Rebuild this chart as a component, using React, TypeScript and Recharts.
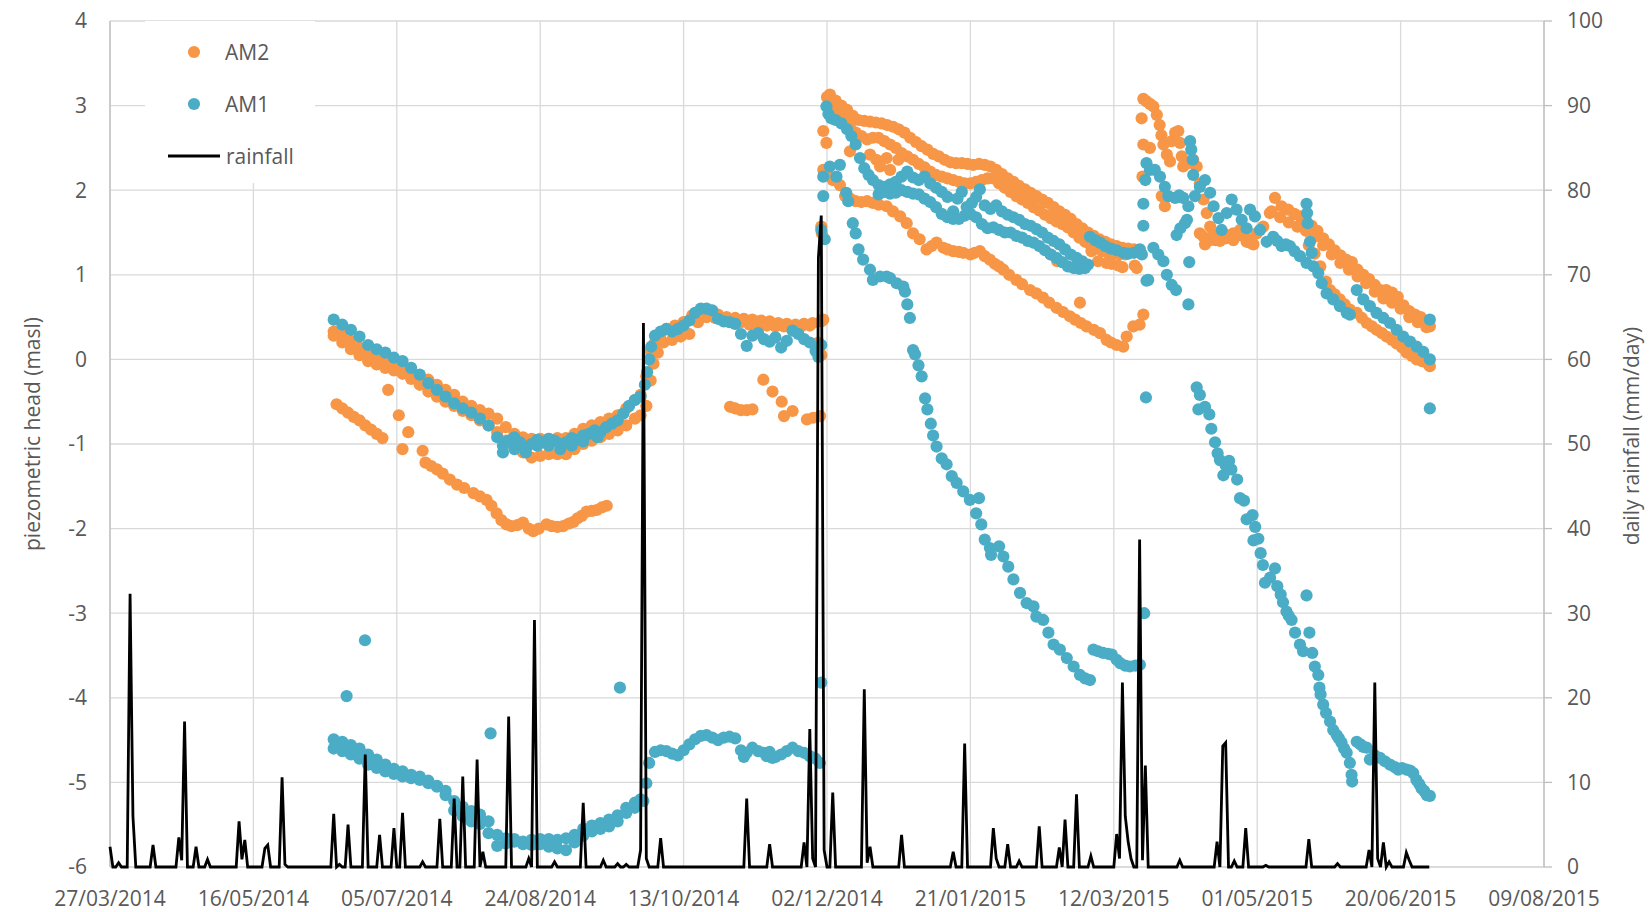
import {
  CartesianGrid,
  ComposedChart,
  Legend,
  Line,
  Scatter,
  XAxis,
  YAxis,
} from "recharts";

// x values are days after 27/03/2014
const dayTicks = [0, 50, 100, 150, 200, 250, 300, 350, 400, 450, 500];
const headTicks = [-6, -5, -4, -3, -2, -1, 0, 1, 2, 3, 4];
const rainTicks = [0, 10, 20, 30, 40, 50, 60, 70, 80, 90, 100];
const rainLastDay = 460;

// [day, mm] for rainy days, every other day is 0
const rainEvents: [number, number][] = [
  [0, 2.4], [3, 0.5], [7, 32.3], [8, 6], [15, 2.6], [24, 3.5], [25, 0.8], [26, 17.2], [30, 2.4],
  [34, 0.9], [45, 5.4], [46, 0.9], [47, 3.2], [54, 2.2], [55, 2.6], [60, 10.6], [61, 0.3],
  [78, 6.3], [80, 0.3], [83, 5.0], [89, 13.3], [94, 3.8], [99, 4.6], [102, 6.4], [109, 0.6],
  [115, 5.7], [120, 8.1], [123, 10.7], [128, 12.7], [130, 1.8], [139, 17.8], [146, 1.0],
  [148, 29.2], [155, 0.6], [165, 7.6], [172, 0.8], [177, 0.4], [180, 0.3], [185, 2.0],
  [186, 64.3], [187, 1.0], [192, 3.4], [222, 8.1], [230, 2.7], [242, 2.9], [244, 16.3],
  [245, 1.0], [247, 72], [248, 77], [249, 2.0], [252, 8.8], [263, 21], [264, 0.5], [265, 2.4],
  [276, 3.8], [294, 1.8], [298, 14.6], [308, 4.6], [309, 1.0], [313, 2.7], [317, 0.7],
  [324, 4.8], [331, 2.3], [333, 5.6], [337, 8.6], [342, 1.3], [351, 3.9], [352, 1.0],
  [353, 21.8], [354, 6], [355, 3], [356, 1], [359, 38.7], [360, 0.8], [361, 12], [373, 0.8],
  [386, 3.0], [388, 14.3], [389, 14.7], [392, 0.7], [396, 4.6], [403, 0.2], [418, 3.3],
  [428, 0.4], [439, 2.0], [441, 21.8], [442, 1.0], [444, 2.9], [446, 0.6], [452, 1.7], [453, 0.8],
];

// ---- AM2 (orange), [day, head] ----
const am2SummerTop: [number, number][] = [
  [78, 0.33], [81, 0.28], [84, 0.22], [87, 0.14], [90, 0.06], [93, 0.01], [96, -0.03], [99, -0.08],
  [102, -0.12], [105, -0.16], [108, -0.2], [111, -0.24], [114, -0.3], [117, -0.36], [120, -0.42],
  [123, -0.5], [126, -0.55], [129, -0.6], [132, -0.64], [135, -0.7], [138, -0.8], [141, -0.88],
  [144, -0.92], [147, -0.94], [150, -0.94], [153, -0.94], [156, -0.93], [159, -0.93], [162, -0.88],
  [165, -0.82], [168, -0.78], [171, -0.74], [174, -0.7], [177, -0.66], [180, -0.58], [183, -0.48],
  [185, -0.42], [187, -0.2], [188.5, 0.1], [190, 0.2], [192, 0.3], [194, 0.36], [197, 0.4],
  [200, 0.44], [203, 0.52], [206, 0.58], [209, 0.55], [212, 0.53], [215, 0.5], [218, 0.49],
  [221, 0.48], [224, 0.47], [227, 0.46], [230, 0.45], [233, 0.43], [236, 0.42], [239, 0.41],
  [242, 0.42], [245, 0.43], [248, 0.45],
];
const am2SummerBottom: [number, number][] = [
  [78, 0.28], [81, 0.2], [84, 0.12], [87, 0.05], [90, -0.02], [93, -0.06], [96, -0.1], [99, -0.13],
  [102, -0.17], [105, -0.23], [108, -0.3], [111, -0.38], [114, -0.44], [117, -0.5], [120, -0.55],
  [123, -0.61], [126, -0.66], [129, -0.72], [132, -0.78], [135, -0.86], [138, -0.96], [141, -1.04],
  [144, -1.1], [147, -1.16], [150, -1.14], [153, -1.12], [156, -1.12], [159, -1.12], [162, -1.06],
  [165, -1.0], [168, -0.96], [171, -0.92], [174, -0.88], [177, -0.84], [180, -0.78], [183, -0.7],
  [185, -0.66], [187, -0.55], [188.5, -0.25], [189.5, -0.05], [191, 0.08], [193, 0.2], [196, 0.23],
  [199, 0.27], [202, 0.3], [205, 0.44], [208, 0.5], [211, 0.49], [214, 0.47], [217, 0.44],
  [220, 0.44], [223, 0.41], [226, 0.41], [229, 0.4], [232, 0.39], [235, 0.39], [238, 0.38],
  [241, 0.39], [244, 0.4], [247, 0.2], [248, 0.05],
];
const am2SummerLow: [number, number][] = [
  [79, -0.53], [81, -0.58], [83, -0.63], [85, -0.68], [87, -0.72], [89, -0.78], [91, -0.83],
  [93, -0.88], [95, -0.93], [97, -0.36], [100.7, -0.66], [104, -0.86], [102, -1.06], [109, -1.08],
  [110, -1.22], [112, -1.26], [114, -1.3], [116, -1.35], [118.5, -1.42], [121, -1.48],
  [123.5, -1.52], [126.7, -1.58], [129, -1.62], [131.3, -1.66], [133, -1.73], [134.8, -1.82],
  [136.5, -1.9], [138.2, -1.95], [140, -1.97], [142, -1.96], [144, -1.93], [146, -2.0],
  [147.6, -2.03], [149.5, -2.0], [152.2, -1.95], [154, -1.97], [156, -1.98], [158, -1.97],
  [160, -1.94], [161.6, -1.92], [163, -1.88], [164.5, -1.85], [166.2, -1.8], [168, -1.79],
  [169.7, -1.78], [171.5, -1.75], [173.2, -1.73],
];
const am2AutumnLow: [number, number][] = [
  [216.2, -0.56], [218, -0.58], [220, -0.6], [222, -0.6], [224, -0.59], [227.8, -0.24],
  [231, -0.38], [234.2, -0.5], [235, -0.67], [238, -0.61], [243, -0.71], [245.2, -0.69],
  [247.6, -0.67],
];
const am2WinterTop: [number, number][] = [
  [250, 3.1], [251, 3.13], [253, 3.06], [255, 3.0], [257, 2.95], [259, 2.88], [261, 2.83],
  [263, 2.82], [265, 2.81], [267, 2.8], [269, 2.79], [271, 2.77], [273, 2.75], [275, 2.72],
  [277, 2.68], [279, 2.62], [281, 2.57], [283, 2.52], [285, 2.48], [287, 2.43], [289, 2.4],
  [291, 2.36], [293, 2.33], [295, 2.32], [297, 2.32], [299, 2.31], [301, 2.3], [303, 2.31],
  [305, 2.3], [307, 2.28], [309, 2.24], [311, 2.19], [313, 2.14], [315, 2.1], [317, 2.05],
  [319, 2.01], [321, 1.97], [323, 1.93], [325, 1.89], [327, 1.85], [329, 1.8], [331, 1.75],
  [333, 1.71], [335, 1.66], [337, 1.6], [339, 1.55], [341, 1.5], [343, 1.46], [345, 1.42],
  [347, 1.39], [349, 1.36], [351, 1.34], [353, 1.32], [355, 1.31], [357, 1.3], [359, 1.29],
];
const am2WinterBottom: [number, number][] = [
  [252, 2.97], [254, 2.9], [256, 2.82], [258, 2.75], [260, 2.68], [262, 2.64], [264, 2.6],
  [266, 2.62], [268, 2.62], [270, 2.58], [272, 2.54], [274, 2.5], [276, 2.44], [278, 2.4],
  [280, 2.36], [282, 2.31], [284, 2.27], [286, 2.22], [288, 2.18], [290, 2.16], [292, 2.14],
  [294, 2.12], [296, 2.1], [298, 2.08], [300, 2.08], [302, 2.1], [304, 2.12], [306, 2.14],
  [308, 2.14], [310, 2.08], [312, 2.03], [314, 1.98], [316, 1.93], [318, 1.89], [320, 1.85],
  [322, 1.8], [324, 1.76], [326, 1.71], [328, 1.67], [330, 1.63], [332, 1.6], [334, 1.56],
  [336, 1.5], [338, 1.44], [340, 1.39], [342, 1.35], [344, 1.31], [346, 1.28], [348, 1.26],
  [350, 1.25], [352, 1.24], [354, 1.24],
];
const am2WinterLow: [number, number][] = [
  [248.7, 2.24], [250, 2.2], [252, 2.12], [254.5, 2.06], [256.3, 1.93], [258, 1.9], [260, 1.87],
  [262, 1.86], [264, 1.87], [266, 1.85], [268, 1.83], [270.8, 1.81], [273, 1.75], [275.5, 1.69],
  [277.8, 1.61], [280, 1.49], [282.3, 1.42], [284.7, 1.3], [286.5, 1.34], [288.2, 1.38],
  [290.6, 1.32], [292, 1.3], [294, 1.28], [296, 1.27], [297.5, 1.26], [300, 1.24], [301.5, 1.26],
  [303.3, 1.28], [305, 1.22], [306.8, 1.18], [308.5, 1.13], [310, 1.1], [311.5, 1.06],
  [313.5, 1.0], [316, 0.94], [318, 0.89], [320.8, 0.82], [323, 0.78], [325.3, 0.73],
  [327.5, 0.67], [330, 0.61], [332.3, 0.56], [334.7, 0.51], [336.5, 0.47], [338.5, 0.43],
  [340.5, 0.39], [343, 0.35], [345.2, 0.31], [347.5, 0.23], [349, 0.2], [351, 0.17],
  [353.3, 0.15], [354.5, 0.27], [356.8, 0.39], [359, 0.41], [360.3, 0.53],
];
const am2WinterStray: [number, number][] = [
  [248.7, 2.7], [249.8, 2.56], [258, 2.46], [265, 2.42], [267.2, 2.36], [268.5, 2.28],
  [270.8, 2.38], [272, 2.24], [274.9, 2.36], [248, 1.57], [248.2, 1.49], [248.7, 0.47],
  [338.2, 0.67], [328, 1.24], [330.3, 1.16], [342.2, 1.28], [344.5, 1.16], [347.5, 1.14],
  [349.2, 1.13], [351.5, 1.11], [353, 1.09], [357.3, 1.11], [358, 1.08],
];
const am2SpringTop: [number, number][] = [
  [359.7, 2.85], [360.3, 3.08], [361.4, 3.05], [362.6, 3.02], [363.8, 2.99], [365, 2.89],
  [366, 2.77], [366.6, 2.65], [367.3, 2.54], [368.5, 2.42], [369.6, 2.34], [370.2, 2.58],
  [371.4, 2.68], [372.5, 2.7], [373.1, 2.56], [373.7, 2.4], [374.2, 2.28], [376, 2.32],
  [377.7, 2.36], [378.9, 2.28], [380, 2.08], [381.3, 1.89], [382.4, 1.73], [383.6, 1.57],
  [384.8, 1.47], [387.1, 1.45], [389.4, 1.47], [391.7, 1.49], [394, 1.47], [396.3, 1.43],
  [398, 1.37], [399.8, 1.49], [402.1, 1.57], [404.4, 1.73], [406.2, 1.91], [408.5, 1.81],
  [410.8, 1.77], [413, 1.72], [415, 1.69], [417, 1.64], [419, 1.58], [421, 1.52], [423, 1.43],
  [425, 1.36], [427, 1.29], [429, 1.23], [431, 1.18], [433, 1.15], [435, 1.06], [437, 1.0],
  [439, 0.95], [441, 0.88], [443, 0.82], [445, 0.82], [447, 0.79], [449, 0.74], [451, 0.64],
  [453, 0.57], [455, 0.53], [457, 0.5], [459, 0.43], [460.2, 0.39],
];
const am2SpringSecond: [number, number][] = [
  [405, 1.75], [408, 1.68], [411, 1.62], [414, 1.57], [417, 1.52], [420, 1.45], [423, 1.35],
  [426, 1.24], [429, 1.14], [432, 1.06], [435, 0.98], [438, 0.9], [441, 0.8], [444, 0.72],
  [447, 0.67], [450, 0.6], [453, 0.5], [456, 0.44], [459, 0.38],
  [360, 2.16], [360.3, 2.54], [362.6, 2.5], [366.7, 1.93], [367.8, 1.81], [380, 1.49],
  [381.3, 1.45], [381.8, 1.36], [383.6, 1.41], [385.5, 1.41], [387, 1.4], [389, 1.43],
  [391.7, 1.41], [394, 1.53], [396.3, 1.39], [398.7, 1.36],
];
const am2SpringLow: [number, number][] = [
  [418, 1.35], [420, 1.25], [422, 1.1], [424, 0.92], [425.4, 0.82], [427, 0.77], [428.8, 0.71],
  [430.5, 0.65], [432.3, 0.59], [434.7, 0.55], [436.5, 0.49], [438.2, 0.43], [440, 0.39],
  [441.6, 0.35], [443.5, 0.31], [445.1, 0.27], [447, 0.23], [448.6, 0.19], [450.5, 0.14],
  [452.1, 0.08], [454, 0.04], [455.6, 0.0], [457.5, -0.02], [459.1, -0.04], [460.2, -0.08],
];

// ---- AM1 (teal), [day, head] ----
const am1Summer: [number, number][] = [
  [78, 0.47], [81, 0.41], [84, 0.35], [87, 0.27], [90, 0.17], [93, 0.12], [96, 0.08], [99, 0.02],
  [102, -0.02], [105, -0.1], [108, -0.18], [111, -0.28], [114, -0.36], [117, -0.44], [120, -0.52],
  [123, -0.58], [126, -0.63], [129, -0.7], [132, -0.78], [135, -0.92], [137, -1.02], [139, -0.96],
  [141, -1.06], [143, -0.98], [145, -1.05], [147, -1.0], [149, -0.95], [151, -0.98], [153, -1.02],
  [155, -0.96], [157, -1.0], [159, -0.98], [161, -1.02], [163, -0.95], [165, -0.9], [167, -0.88],
  [169, -0.84], [171, -0.86], [173, -0.8], [175, -0.76], [177, -0.72], [179, -0.64], [181, -0.55],
  [183, -0.48], [185, -0.44], [186.5, -0.3], [187.3, -0.15], [188, 0.0], [188.7, 0.15],
  [190, 0.28], [192, 0.33], [194, 0.36], [196, 0.33], [198, 0.36], [200, 0.4], [202, 0.46],
  [204, 0.55], [206, 0.6], [208, 0.6], [210, 0.58], [212, 0.48], [214, 0.45], [216, 0.44],
  [218, 0.42], [220, 0.3], [222, 0.16], [224, 0.28], [226, 0.31], [228, 0.24], [230, 0.21],
  [232, 0.26], [234, 0.14], [236, 0.22], [238, 0.34], [240, 0.3], [242, 0.24], [244, 0.2],
  [246, 0.1], [247, 0.03], [248, 0.17],
  [137, -1.1], [141, -0.92], [145, -1.1], [149, -1.02], [153, -0.94], [157, -1.06], [161, -0.93],
  [165, -0.97], [170, -0.92],
];
const am1SummerLowTop: [number, number][] = [
  [78, -4.49], [81, -4.52], [84, -4.56], [87, -4.6], [90, -4.67], [93, -4.73], [96, -4.79],
  [99, -4.84], [102, -4.87], [105, -4.91], [108, -4.93], [111, -4.98], [114, -5.04], [117, -5.1],
  [120, -5.22], [123, -5.29], [126, -5.34], [129, -5.38], [132, -5.46], [135, -5.62],
  [138, -5.66], [141, -5.67], [144, -5.7], [147, -5.68], [150, -5.67], [153, -5.67],
  [156, -5.68], [159, -5.66], [162, -5.62], [165, -5.55], [168, -5.51], [171, -5.48],
  [174, -5.44], [177, -5.39], [180, -5.3], [183, -5.24], [185, -5.2], [187, -5.01],
  [188, -4.77], [190, -4.64], [192, -4.62], [194, -4.63], [196, -4.66], [198, -4.68],
  [200, -4.62], [202, -4.55], [204, -4.49], [206, -4.45], [208, -4.44], [210, -4.47],
  [212, -4.5], [214, -4.47], [216, -4.46], [218, -4.48], [220, -4.62], [222, -4.65],
  [224, -4.59], [226, -4.63], [228, -4.65], [230, -4.64], [232, -4.7], [234, -4.67],
  [236, -4.63], [238, -4.59], [240, -4.63], [242, -4.65], [244, -4.69], [246, -4.72],
  [247.5, -4.77],
];
const am1SummerLowBottom: [number, number][] = [
  [78, -4.6], [81, -4.63], [84, -4.67], [87, -4.72], [90, -4.79], [93, -4.83], [96, -4.87],
  [99, -4.9], [102, -4.93], [105, -4.95], [108, -4.97], [111, -5.01], [114, -5.05], [117, -5.15],
  [120, -5.33], [123, -5.4], [126, -5.46], [129, -5.49], [132, -5.6], [135, -5.75], [138, -5.72],
  [141, -5.7], [144, -5.73], [147, -5.74], [150, -5.73], [153, -5.76], [156, -5.78], [159, -5.8],
  [162, -5.71], [165, -5.63], [168, -5.58], [171, -5.55], [174, -5.52], [177, -5.46],
  [180, -5.36], [183, -5.3], [186, -5.22], [221, -4.7], [229, -4.69], [231, -4.71],
];
const am1Stray: [number, number][] = [
  [82.5, -3.98], [88.9, -3.32], [132.7, -4.42], [177.8, -3.88], [248, -3.82],
  [248, 1.53], [249.2, 1.42], [248.7, 1.93], [248.7, 2.16], [360.3, 1.58], [360.3, 1.84],
  [361, 2.12], [361.4, 0.93], [361.2, -0.45], [360.6, -3.0], [460.2, -0.58], [460.2, 0.47],
  [376.6, 2.58], [377, 2.48], [377.5, 2.36], [377.7, 2.18], [417.2, 1.84], [417.4, 1.73],
  [417.6, 1.61], [418.4, 1.39], [419, 1.26], [371.9, 1.47], [373.2, 1.55], [374.8, 1.61],
  [375.5, 1.65], [376.3, 1.15], [376, 0.65], [362, 0.94], [363.8, 1.32], [365.5, 1.24],
  [367.3, 1.16], [368.5, 1.0], [370.2, 0.88], [371.7, 0.82],
];
const am1WinterTop: [number, number][] = [
  [249.8, 2.99], [250.5, 2.9], [251.5, 2.85], [253, 2.83], [255, 2.79], [257, 2.72],
  [258.5, 2.64], [260, 2.54], [261.5, 2.38], [263, 2.26], [264.5, 2.18], [266, 2.12],
  [268, 2.06], [270, 2.04], [272, 2.07], [274, 2.1], [276, 2.16], [278, 2.22], [280, 2.15],
  [282, 2.12], [284, 2.16], [286, 2.08], [288, 2.03], [290, 1.98], [292, 1.92], [294, 1.75],
  [295.5, 1.9], [297, 1.98], [298.7, 1.8], [300.5, 1.85], [302, 1.92], [303.3, 2.01],
  [305, 1.82], [307, 1.78], [309, 1.82], [311, 1.75], [313, 1.71], [315, 1.68], [317, 1.65],
  [319, 1.6], [321, 1.58], [323, 1.54], [325, 1.5], [327, 1.44], [329, 1.4], [331, 1.36],
  [333, 1.3], [335, 1.24], [337, 1.2], [339, 1.16], [341, 1.12],
];
const am1WinterBottom: [number, number][] = [
  [268, 1.95], [270, 1.98], [272, 1.96], [274, 1.97], [276, 2.0], [278, 1.98], [280, 1.96],
  [282, 1.95], [284, 1.9], [286, 1.86], [288, 1.8], [290, 1.72], [292, 1.68], [294, 1.66],
  [296, 1.66], [298, 1.7], [300, 1.72], [302, 1.68], [304, 1.6], [306, 1.55], [308, 1.56],
  [310, 1.53], [312, 1.5], [314, 1.5], [316, 1.46], [318, 1.44], [320, 1.4], [322, 1.38],
  [324, 1.34], [326, 1.29], [328, 1.24], [330, 1.2], [332, 1.15], [334, 1.1], [336, 1.08],
  [338, 1.07], [340, 1.08],
  [341.7, 1.45], [343.5, 1.41], [345.2, 1.38], [347, 1.34], [349, 1.31], [351, 1.29],
  [353.3, 1.26], [355, 1.25], [357, 1.26], [359.1, 1.3], [359.8, 1.24],
];
const am1WinterDrop: [number, number][] = [
  [251, 2.28], [253.3, 2.16], [254.5, 2.3], [256.7, 1.97], [257.4, 1.87], [259, 1.61],
  [260, 1.49], [261, 1.3], [262.6, 1.18], [265, 1.06], [266, 0.94], [268.5, 0.98],
  [270.8, 0.98], [272, 0.96], [274.3, 0.9], [276.6, 0.86], [277.2, 0.8], [278, 0.65],
  [278.9, 0.49], [280, 0.11], [280.7, 0.06], [281.9, -0.07], [283, -0.2], [284.2, -0.46],
  [285, -0.59], [286.2, -0.76], [287, -0.9], [288.2, -1.03], [290, -1.17], [291.7, -1.24],
  [293.5, -1.38], [295.2, -1.46], [297.5, -1.56], [299.8, -1.66], [302, -1.82], [303, -1.64],
  [303.8, -1.95], [305, -2.13], [306.8, -2.23], [307.2, -2.31], [310, -2.21], [311.5, -2.33],
  [313.2, -2.45], [315, -2.6], [317.3, -2.76], [319.6, -2.88], [322, -2.92], [323, -3.04],
  [325.4, -3.08], [327.2, -3.23], [329, -3.37], [331.2, -3.43], [333.6, -3.53], [336, -3.63],
  [338.2, -3.73], [340, -3.77], [341.7, -3.79], [342.9, -3.43], [344.5, -3.45], [346.3, -3.47],
  [348, -3.48], [349.3, -3.49], [351, -3.55], [352.2, -3.59], [354, -3.62], [355.6, -3.63],
  [357.5, -3.62], [359.1, -3.61],
];
const am1Spring: [number, number][] = [
  [361.4, 2.32], [362.6, 2.24], [364.3, 2.24], [366.1, 2.16], [367.8, 2.04], [369, 1.93],
  [371.4, 1.91], [372.8, 1.94], [374.2, 1.91], [376, 1.81], [378.3, 1.93], [380, 2.04],
  [381.8, 2.12], [383.6, 1.97], [384.8, 1.81], [386.5, 1.67], [387.6, 1.53], [389.4, 1.73],
  [391.1, 1.89], [392.8, 1.77], [394.6, 1.65], [396.3, 1.55], [397.5, 1.77], [399.2, 1.69],
  [401, 1.53], [403.3, 1.39], [405.6, 1.45], [407, 1.4], [408.5, 1.34], [410, 1.36],
  [411.4, 1.34], [413, 1.28], [414.9, 1.22], [417.2, 1.14], [419.6, 1.1], [421.3, 1.02],
  [422.5, 0.9], [424.2, 0.78], [426.5, 0.71], [428.8, 0.63], [431.2, 0.55], [432.3, 0.53],
  [434.7, 0.82], [437, 0.71], [439.3, 0.63], [441.6, 0.55], [444, 0.49], [446.3, 0.43],
  [448.6, 0.35], [450.9, 0.27], [453.3, 0.21], [455.6, 0.15], [457.9, 0.09], [460.2, 0.0],
];
const am1SpringDrop: [number, number][] = [
  [378.9, -0.33], [380, -0.42], [379.5, -0.59], [381.8, -0.56], [383.3, -0.65], [384, -0.82],
  [385.3, -0.98], [386.2, -1.11], [387, -1.19], [388.2, -1.37], [389, -1.25], [390.2, -1.2],
  [391, -1.3], [393, -1.42], [394, -1.64], [395.4, -1.67], [396.3, -1.89], [398.4, -1.84],
  [399.3, -1.98], [398.7, -2.14], [400.4, -2.12], [401.2, -2.29], [402, -2.43], [402.7, -2.64],
  [404.5, -2.58], [406.2, -2.47], [407, -2.68], [408.2, -2.78], [409, -2.87], [410.2, -2.98],
  [411, -3.03], [412, -3.08], [413.2, -3.23], [414.9, -3.37], [416, -3.45], [417.2, -2.79],
  [418.2, -3.23], [419.2, -3.47], [420.1, -3.63], [421.3, -3.73], [421.7, -3.88],
  [422.1, -3.96], [423, -4.08], [424, -4.18], [425.4, -4.28], [426.5, -4.38], [427.7, -4.44],
  [428.5, -4.48], [429.4, -4.53], [430.3, -4.6], [431.2, -4.65], [432.3, -4.77], [432.9, -4.91],
  [433.1, -4.99],
  [434.7, -4.52], [436, -4.55], [437, -4.58], [438.2, -4.59], [439.3, -4.73], [441, -4.68],
  [442.8, -4.71], [444.5, -4.75], [446.3, -4.79], [448, -4.82], [449.2, -4.85], [450.5, -4.83],
  [452.1, -4.85], [453.3, -4.86], [454.4, -4.89], [455.5, -4.97], [456.5, -5.02],
  [457.3, -5.07], [458.2, -5.1], [459.1, -5.15], [460.2, -5.16],
];

const AM2_COLOR = "#F79646";
const AM1_COLOR = "#4BACC6";
const FONT = '"Open Sans", "Noto Sans", sans-serif';
const TEXT = "#595959";
const FONT_SIZE = 21;

const toPoints = (tracks: [number, number][][]) =>
  tracks.flat().map(([day, head]) => ({ day, head }));

const am2Data = toPoints([
  am2SummerTop, am2SummerBottom, am2SummerLow, am2AutumnLow, am2WinterTop, am2WinterBottom,
  am2WinterLow, am2WinterStray, am2SpringTop, am2SpringSecond, am2SpringLow,
]);
const am1Data = toPoints([
  am1Summer, am1SummerLowTop, am1SummerLowBottom, am1Stray, am1WinterTop, am1WinterBottom,
  am1WinterDrop, am1Spring, am1SpringDrop,
]);

const rainByDay = new Map(rainEvents);
const rainData = Array.from({ length: rainLastDay + 1 }, (_, day) => ({
  day,
  rain: rainByDay.get(day) ?? 0,
}));

const fmtDate = (d: number) => {
  const dt = new Date(Date.UTC(2014, 2, 27 + d));
  const dd = String(dt.getUTCDate()).padStart(2, "0");
  const mm = String(dt.getUTCMonth() + 1).padStart(2, "0");
  return `${dd}/${mm}/${dt.getUTCFullYear()}`;
};

const dot = (color: string) => (props: any) =>
  props.cx == null ? <g /> : <circle cx={props.cx} cy={props.cy} r={6.1} fill={color} />;

const tickStyle = { fill: TEXT, fontSize: FONT_SIZE, fontFamily: FONT };

const renderLegend = () => (
  <svg width={170} height={162} style={{ display: "block" }}>
    <circle cx={49} cy={31} r={6.1} fill={AM2_COLOR} />
    <text x={80} y={31} dominantBaseline="central" fontSize={FONT_SIZE} fontFamily={FONT} fill={TEXT}>AM2</text>
    <circle cx={49} cy={83} r={6.1} fill={AM1_COLOR} />
    <text x={80} y={83} dominantBaseline="central" fontSize={FONT_SIZE} fontFamily={FONT} fill={TEXT}>AM1</text>
    <line x1={23} x2={75} y1={135} y2={135} stroke="#000" strokeWidth={2.8} />
    <text x={81} y={135} dominantBaseline="central" fontSize={FONT_SIZE} fontFamily={FONT} fill={TEXT}>rainfall</text>
  </svg>
);

const leftTitle = () => (
  <text x={32} y={434} transform="rotate(-90, 32, 434)" textAnchor="middle" dominantBaseline="central"
    fontSize={FONT_SIZE} fontFamily={FONT} fill={TEXT}>piezometric head (masl)</text>
);
const rightTitle = () => (
  <text x={1631} y={436} transform="rotate(-90, 1631, 436)" textAnchor="middle" dominantBaseline="central"
    fontSize={FONT_SIZE} fontFamily={FONT} fill={TEXT}>daily rainfall (mm/day)</text>
);

export default function App() {
  return (
    <div style={{ width: 1652, height: 912, background: "#fff", position: "relative" }}>
      <style>{"body{margin:0}"}</style>
      <ComposedChart width={1652} height={912} margin={{ top: 21, right: 0, bottom: 0, left: 0 }}>
        <CartesianGrid yAxisId="left" stroke="#d9d9d9" strokeWidth={1.3} />
        <XAxis
          dataKey="day"
          type="number"
          domain={[0, 500]}
          ticks={dayTicks}
          interval={0}
          tickFormatter={fmtDate}
          height={45}
          tickLine={false}
          tickSize={0}
          tickMargin={24}
          axisLine={{ stroke: "#d9d9d9", strokeWidth: 1.3 }}
          tick={tickStyle}
        />
        <YAxis
          yAxisId="left"
          type="number"
          domain={[-6, 4]}
          ticks={headTicks}
          interval={0}
          width={110}
          tickLine={false}
          tickSize={0}
          tickMargin={23}
          axisLine={{ stroke: "#bfbfbf", strokeWidth: 1.3 }}
          tick={tickStyle}
          label={leftTitle}
        />
        <YAxis
          yAxisId="right"
          orientation="right"
          type="number"
          domain={[0, 100]}
          ticks={rainTicks}
          interval={0}
          width={108}
          tickSize={8}
          tickMargin={15}
          tickLine={{ stroke: "#bfbfbf", strokeWidth: 1.3 }}
          axisLine={{ stroke: "#bfbfbf", strokeWidth: 1.3 }}
          tick={tickStyle}
          label={rightTitle}
        />
        <Legend
          layout="vertical"
          align="center"
          verticalAlign="middle"
          content={renderLegend}
          wrapperStyle={{ left: 145, top: 21, width: 170, height: 162, background: "#fff" }}
        />
        <Scatter name="AM2" data={am2Data} dataKey="head" yAxisId="left" fill={AM2_COLOR}
          shape={dot(AM2_COLOR)} isAnimationActive={false} />
        <Scatter name="AM1" data={am1Data} dataKey="head" yAxisId="left" fill={AM1_COLOR}
          shape={dot(AM1_COLOR)} isAnimationActive={false} />
        <Line name="rainfall" data={rainData} dataKey="rain" yAxisId="right" type="linear"
          stroke="#000" strokeWidth={2.8} dot={false} activeDot={false}
          isAnimationActive={false} zIndex={700} />
      </ComposedChart>
    </div>
  );
}
